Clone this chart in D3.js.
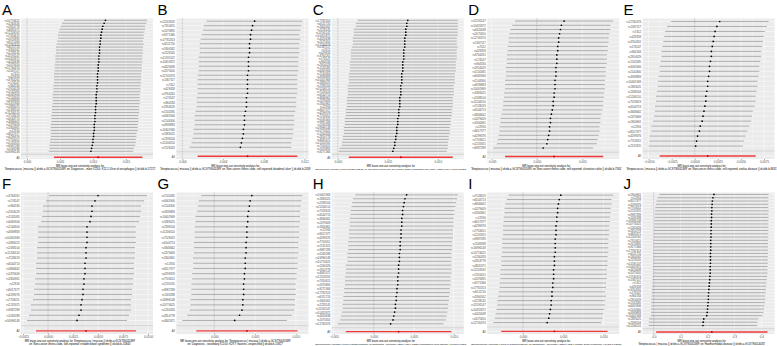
<!DOCTYPE html>
<html>
<head>
<meta charset="utf-8">
<script src="https://cdn.jsdelivr.net/npm/d3@7"></script>
<style>
  html, body { margin: 0; padding: 0; background: #fff; }
  svg { display: block; font-family: "Liberation Sans", Arial, sans-serif; }
</style>
</head>
<body>
<div id="chart"></div>
<script>
// instrument SNPs (labels are too small to read in the figure)
const snpIds = ["rs10774625","rs1260326","rs2814778","rs4845371","rs12203592","rs7310615","rs2070895",
  "rs9271366","rs17782313","rs6511720","rs1800562","rs2228145","rs11591147","rs10455872","rs4420638",
  "rs2075650","rs12740374","rs1367117","rs7412","rs429358","rs3764261","rs174547","rs964184","rs2954029",
  "rs1532085","rs6065906","rs2144300","rs4939883","rs10401969","rs1883025","rs2338104","rs11206510",
  "rs7528419","rs6544713","rs3846662","rs2479409","rs1800961","rs12916","rs8017377","rs4299376",
  "rs7703051","rs2131925","rs9987289","rs1169288","rs16996148"];

const panelLetters = ["A","B","C","D","E","F","G","H","I","J"];

// leave-one-out rows, top to bottom: [beta, half width of 95% CI]
const looA = [[0.0119,0.0063],[0.0117,0.0064],[0.0115,0.0064],[0.0114,0.0065],[0.0113,0.0065],[0.0112,0.0065],
  [0.0112,0.0065],[0.0111,0.0065],[0.0111,0.0066],[0.0110,0.0066],[0.0110,0.0066],[0.0110,0.0066],[0.0109,0.0066],
  [0.0109,0.0066],[0.0109,0.0066],[0.0108,0.0066],[0.0108,0.0066],[0.0108,0.0066],[0.0107,0.0066],[0.0107,0.0066],
  [0.0107,0.0066],[0.0107,0.0066],[0.0106,0.0066],[0.0106,0.0066],[0.0106,0.0066],[0.0105,0.0066],[0.0105,0.0066],
  [0.0105,0.0066],[0.0105,0.0066],[0.0104,0.0066],[0.0104,0.0066],[0.0104,0.0066],[0.0103,0.0066],[0.0103,0.0066],
  [0.0103,0.0066],[0.0102,0.0066],[0.0102,0.0066],[0.0102,0.0066],[0.0101,0.0065],[0.0101,0.0065],[0.0100,0.0065],
  [0.0100,0.0065],[0.0099,0.0065],[0.0098,0.0064],[0.0097,0.0064]];
const looB = [[0.0071,0.0047],[0.0069,0.0048],[0.0068,0.0048],[0.0067,0.0048],[0.0067,0.0049],[0.0066,0.0049],
  [0.0066,0.0049],[0.0066,0.0049],[0.0065,0.0049],[0.0065,0.0049],[0.0065,0.0049],[0.0065,0.0049],[0.0064,0.0049],
  [0.0064,0.0049],[0.0064,0.0049],[0.0064,0.0049],[0.0064,0.0049],[0.0063,0.0049],[0.0063,0.0049],[0.0063,0.0049],
  [0.0062,0.0049],[0.0061,0.0049],[0.0061,0.0049],[0.0061,0.0049],[0.0060,0.0049],[0.0060,0.0049],[0.0059,0.0049],
  [0.0058,0.0049],[0.0057,0.0050]];
const looC = [[0.0070,0.0050],[0.0069,0.0051],[0.0069,0.0051],[0.0068,0.0052],[0.0068,0.0052],[0.0068,0.0052],
  [0.0067,0.0052],[0.0067,0.0052],[0.0067,0.0052],[0.0067,0.0053],[0.0066,0.0053],[0.0066,0.0053],[0.0066,0.0053],
  [0.0066,0.0053],[0.0065,0.0053],[0.0065,0.0053],[0.0065,0.0053],[0.0065,0.0053],[0.0064,0.0053],[0.0064,0.0053],
  [0.0064,0.0053],[0.0064,0.0053],[0.0063,0.0053],[0.0063,0.0053],[0.0063,0.0053],[0.0063,0.0053],[0.0062,0.0053],
  [0.0062,0.0053],[0.0062,0.0053],[0.0062,0.0053],[0.0061,0.0053],[0.0061,0.0053],[0.0061,0.0053],[0.0060,0.0053],
  [0.0060,0.0053],[0.0060,0.0053],[0.0059,0.0053],[0.0059,0.0053],[0.0059,0.0053],[0.0058,0.0053],[0.0058,0.0053],
  [0.0057,0.0053],[0.0057,0.0053],[0.0056,0.0054],[0.0055,0.0054]];
const looD = [[0.0030,0.0054],[0.0027,0.0054],[0.0026,0.0055],[0.0025,0.0055],[0.0024,0.0055],[0.0024,0.0055],
  [0.0023,0.0055],[0.0023,0.0055],[0.0022,0.0055],[0.0022,0.0055],[0.0022,0.0055],[0.0021,0.0055],[0.0021,0.0055],
  [0.0021,0.0055],[0.0020,0.0055],[0.0020,0.0055],[0.0020,0.0055],[0.0019,0.0055],[0.0019,0.0055],[0.0018,0.0055],
  [0.0018,0.0055],[0.0017,0.0055],[0.0016,0.0055],[0.0015,0.0055],[0.0015,0.0055],[0.0014,0.0055],[0.0014,0.0055],
  [0.0013,0.0055],[0.0012,0.0055],[0.0011,0.0055],[0.0007,0.0055]];
const looE = [[0.0027,0.0053],[0.0024,0.0054],[0.0022,0.0054],[0.0021,0.0054],[0.0020,0.0054],[0.0019,0.0054],
  [0.0018,0.0054],[0.0018,0.0054],[0.0017,0.0054],[0.0016,0.0054],[0.0016,0.0054],[0.0015,0.0054],[0.0014,0.0054],
  [0.0014,0.0054],[0.0013,0.0054],[0.0012,0.0054],[0.0012,0.0054],[0.0011,0.0054],[0.0010,0.0053],[0.0009,0.0053],
  [0.0008,0.0053],[0.0006,0.0053],[0.0005,0.0052],[0.0003,0.0052],[0.0002,0.0051],[0.0001,0.0051]];
const looF = [[0.0050,0.0049],[0.0047,0.0049],[0.0044,0.0049],[0.0044,0.0049],[0.0043,0.0049],[0.0042,0.0049],
  [0.0039,0.0049],[0.0039,0.0049],[0.0039,0.0049],[0.0039,0.0049],[0.0038,0.0049],[0.0038,0.0049],[0.0038,0.0049],
  [0.0037,0.0049],[0.0037,0.0049],[0.0037,0.0049],[0.0036,0.0049],[0.0036,0.0049],[0.0035,0.0049],[0.0035,0.0049],
  [0.0034,0.0049],[0.0033,0.0050],[0.0033,0.0050],[0.0031,0.0050],[0.0029,0.0050]];
const looG = [[0.0046,0.0062],[0.0044,0.0063],[0.0043,0.0063],[0.0042,0.0063],[0.0041,0.0064],[0.0041,0.0064],
  [0.0040,0.0064],[0.0040,0.0064],[0.0040,0.0064],[0.0039,0.0064],[0.0039,0.0064],[0.0039,0.0064],[0.0038,0.0064],
  [0.0038,0.0064],[0.0038,0.0064],[0.0037,0.0064],[0.0037,0.0064],[0.0036,0.0064],[0.0036,0.0064],[0.0036,0.0064],
  [0.0035,0.0064],[0.0035,0.0064],[0.0034,0.0064],[0.0031,0.0064],[0.0025,0.0064]];
const looH = [[0.0041,0.0064],[0.0039,0.0065],[0.0038,0.0065],[0.0037,0.0065],[0.0036,0.0065],[0.0036,0.0065],
  [0.0035,0.0065],[0.0035,0.0065],[0.0035,0.0065],[0.0034,0.0065],[0.0034,0.0065],[0.0034,0.0065],[0.0033,0.0065],
  [0.0033,0.0065],[0.0033,0.0065],[0.0032,0.0065],[0.0032,0.0065],[0.0032,0.0065],[0.0031,0.0066],[0.0031,0.0066],
  [0.0031,0.0066],[0.0030,0.0066],[0.0030,0.0066],[0.0030,0.0066],[0.0029,0.0066],[0.0029,0.0066],[0.0028,0.0066],
  [0.0028,0.0066],[0.0027,0.0066],[0.0027,0.0066],[0.0026,0.0066],[0.0025,0.0066],[0.0024,0.0066],[0.0021,0.0066]];
const looI = [[0.0047,0.0065],[0.0045,0.0065],[0.0044,0.0066],[0.0043,0.0066],[0.0043,0.0066],[0.0042,0.0066],
  [0.0042,0.0066],[0.0041,0.0066],[0.0041,0.0066],[0.0041,0.0066],[0.0040,0.0066],[0.0040,0.0066],[0.0040,0.0066],
  [0.0040,0.0066],[0.0039,0.0066],[0.0039,0.0066],[0.0039,0.0066],[0.0038,0.0066],[0.0038,0.0066],[0.0038,0.0066],
  [0.0037,0.0066],[0.0037,0.0066],[0.0036,0.0066],[0.0036,0.0067],[0.0035,0.0067],[0.0035,0.0067],[0.0034,0.0067],
  [0.0033,0.0067],[0.0032,0.0067],[0.0030,0.0067]];
const looJ = [[0.224,0.203],[0.220,0.206],[0.218,0.208],[0.217,0.209],[0.216,0.210],[0.216,0.211],[0.215,0.211],
  [0.215,0.212],[0.214,0.212],[0.214,0.212],[0.214,0.212],[0.213,0.213],[0.213,0.213],[0.213,0.213],[0.212,0.213],
  [0.212,0.213],[0.212,0.213],[0.212,0.213],[0.211,0.213],[0.211,0.213],[0.211,0.213],[0.211,0.213],[0.210,0.213],
  [0.210,0.213],[0.210,0.213],[0.209,0.213],[0.208,0.213],[0.207,0.212],[0.206,0.212],[0.205,0.212],[0.204,0.212],
  [0.203,0.211],[0.203,0.211],[0.202,0.211],[0.201,0.210],[0.200,0.210],[0.199,0.209],[0.197,0.208],[0.186,0.203],
  [0.184,0.202],[0.183,0.202]];

// "All" row per panel: [beta, half width]
const allRows = [[0.0108,0.0067],[0.0064,0.0049],[0.0063,0.0052],[0.0019,0.0054],[0.0014,0.0052],
  [0.0038,0.0050],[0.0040,0.0062],[0.0031,0.0066],[0.0039,0.0066],[0.216,0.207]];

// x tick values and formats
const ticksA = [0, 0.005, 0.010, 0.015];
const ticksB = [0, 0.004, 0.008, 0.012];
const ticksC = [0, 0.005, 0.010];
const ticksD = [-0.005, 0, 0.005];
const ticksE = [-0.005, -0.0025, 0, 0.0025, 0.005, 0.0075];
const ticksF = [-0.0025, 0, 0.0025, 0.005, 0.0075, 0.010];
const ticksG = [-0.005, 0, 0.005, 0.010];
const ticksH = [-0.005, 0, 0.005, 0.010];
const ticksI = [-0.005, 0, 0.005, 0.010];
const ticksJ = [0, 0.1, 0.2, 0.3, 0.4];
const tickFormats = [".3f",".3f",".3f",".3f",".4f",".4f",".3f",".3f",".3f",".1f"];

const expo = "'Streptococcus | mucosa || id:ebi-a-GCST90032489'";
const captions = [
  ["MR leave-one-out sensitivity analysis for", expo + " on 'Diagnoses - main ICD10: K22.1 Ulcer of oesophagus || id:ukb-b-17272'"],
  ["MR leave-one-out sensitivity analysis for", expo + " on 'Non-cancer illness code, self-reported: duodenal ulcer || id:ukb-b-2058'"],
  ["MR leave-one-out sensitivity analysis for", expo + " on 'Non-cancer illness code, self-reported: gastro-oesophageal reflux (gord) / gastric reflux || id:ukb-b-20203'"],
  ["MR leave-one-out sensitivity analysis for", expo + " on 'Non-cancer illness code, self-reported: ulcerative colitis || id:ukb-b-7584'"],
  ["MR leave-one-out sensitivity analysis for", expo + " on 'Non-cancer illness code, self-reported: coeliac disease || id:ukb-b-8631'"],
  ["MR leave-one-out sensitivity analysis for " + expo, "on 'Non-cancer illness code, self-reported: irritable bowel syndrome || id:ukb-b-15840'"],
  ["MR leave-one-out sensitivity analysis for " + expo, "on 'Diagnoses - secondary ICD10: K29.7 Gastritis, unspecified || id:ukb-b-15827'"],
  ["MR leave-one-out sensitivity analysis for", expo + " on 'Diagnoses - secondary ICD10: K21.9 Gastro-oesophageal reflux disease || id:ukb-b-17361'"],
  ["MR leave-one-out sensitivity analysis for", expo + " on 'Diagnoses - secondary ICD10: K58.9 Irritable bowel syndrome || id:ukb-b-15836'"],
  ["MR leave-one-out sensitivity analysis for", expo + " on 'Haemorrhoidal disease || id:ebi-a-GCST90014033'"]
];

const looRows = [looA, looB, looC, looD, looE, looF, looG, looH, looI, looJ];
const tickSets = [ticksA, ticksB, ticksC, ticksD, ticksE, ticksF, ticksG, ticksH, ticksI, ticksJ];

const W = 777, H = 346;
const colW = W / 5;

const svg = d3.select("#chart").append("svg")
  .attr("width", W).attr("height", H)
  .attr("viewBox", `0 0 ${W} ${H}`);

panelLetters.forEach((letter, i) => {
  const col = i % 5, row = Math.floor(i / 5);
  const x0 = col * colW;
  const top = row ? 192.5 : 18.5;
  const bottom = row ? 334 : 159;
  const left = x0 + 21, right = x0 + 153;

  const rows = looRows[i];
  const names = snpIds.slice(i * 4).concat(snpIds.slice(0, i * 4)).slice(0, rows.length);
  const data = rows.map((r, k) => ({ snp: names[k], b: r[0], lo: r[0] - r[1], hi: r[0] + r[1] }));
  const all = { snp: "All", b: allRows[i][0], lo: allRows[i][0] - allRows[i][1], hi: allRows[i][0] + allRows[i][1] };
  const levels = names.concat([" ", "All"]);

  // ggplot-like scales: 5% expansion on continuous x, 0.6 on discrete y
  const ext = d3.extent(data.concat([all]).flatMap(d => [d.lo, d.hi]).concat([0]));
  const pad = (ext[1] - ext[0]) * 0.05;
  const x = d3.scaleLinear().domain([ext[0] - pad, ext[1] + pad]).range([left, right]);
  const y = d3.scalePoint().domain(levels).range([top, bottom]).padding(0.6);

  const g = svg.append("g");
  g.append("rect").attr("x", left).attr("y", top)
    .attr("width", right - left).attr("height", bottom - top).attr("fill", "#EBEBEB");

  const dom = x.domain();
  const ticks = tickSets[i].filter(t => t >= dom[0] && t <= dom[1]);
  const step = tickSets[i][1] - tickSets[i][0];
  const minor = d3.range(tickSets[i][0] - step / 2, dom[1], step).filter(t => t >= dom[0]);

  g.selectAll(".minor").data(minor).join("line")
    .attr("x1", d => x(d)).attr("x2", d => x(d)).attr("y1", top).attr("y2", bottom)
    .attr("stroke", "#fff").attr("stroke-width", 0.25);
  g.selectAll(".major").data(ticks).join("line")
    .attr("x1", d => x(d)).attr("x2", d => x(d)).attr("y1", top).attr("y2", bottom)
    .attr("stroke", "#fff").attr("stroke-width", 0.5);
  g.selectAll(".hgrid").data(levels).join("line")
    .attr("x1", left).attr("x2", right).attr("y1", d => y(d)).attr("y2", d => y(d))
    .attr("stroke", "#fff").attr("stroke-width", 0.5);

  // zero line and separator
  g.append("line").attr("x1", x(0)).attr("x2", x(0)).attr("y1", top).attr("y2", bottom)
    .attr("stroke", "#777").attr("stroke-width", 0.5).attr("stroke-dasharray", "0.8,0.8");
  g.append("line").attr("x1", left).attr("x2", right).attr("y1", y(" ")).attr("y2", y(" "))
    .attr("stroke", "#bebebe").attr("stroke-width", 0.6);

  g.selectAll(".ci").data(data).join("line")
    .attr("x1", d => x(d.lo)).attr("x2", d => x(d.hi))
    .attr("y1", d => y(d.snp)).attr("y2", d => y(d.snp))
    .attr("stroke", "#5a5a5a").attr("stroke-width", 0.45);
  g.selectAll(".pt").data(data).join("circle")
    .attr("cx", d => x(d.b)).attr("cy", d => y(d.snp)).attr("r", 0.85).attr("fill", "#000");

  g.append("line").attr("x1", x(all.lo)).attr("x2", x(all.hi))
    .attr("y1", y("All")).attr("y2", y("All"))
    .attr("stroke", "#f03a3a").attr("stroke-width", 1.4);
  g.append("circle").attr("cx", x(all.b)).attr("cy", y("All")).attr("r", 0.95).attr("fill", "#d40000");

  // axes
  const ya = g.append("g").attr("transform", `translate(${left},0)`)
    .call(d3.axisLeft(y).tickSize(0).tickPadding(1.5));
  ya.select(".domain").remove();
  ya.selectAll("text").attr("font-size", 2.8).attr("fill", "#4d4d4d")
    .attr("font-family", "'Liberation Sans', Arial, sans-serif");

  const xa = g.append("g").attr("transform", `translate(0,${bottom})`)
    .call(d3.axisBottom(x).tickValues(ticks).tickFormat(d3.format(tickFormats[i])).tickSize(1).tickPadding(0.8));
  xa.select(".domain").remove();
  xa.selectAll("line").attr("stroke", "#333").attr("stroke-width", 0.4);
  xa.selectAll("text").attr("font-size", 3).attr("fill", "#4d4d4d")
    .attr("font-family", "'Liberation Sans', Arial, sans-serif");

  // axis title (two lines)
  const cx = x0 + 80;
  captions[i].forEach((line, k) => {
    const t = g.append("text").attr("x", cx).attr("y", bottom + 7.8 + k * 3.3)
      .attr("text-anchor", "middle").attr("font-size", 2.7).attr("fill", "#000").text(line);
    const len = t.node().getComputedTextLength();
    if (len > 151) t.attr("font-size", 2.7 * 151 / len);
  });

  g.append("text").attr("x", x0 + 2).attr("y", row ? 189 : 14.5)
    .attr("font-size", 15).attr("fill", "#000").text(letter);
});
</script>
</body>
</html>
